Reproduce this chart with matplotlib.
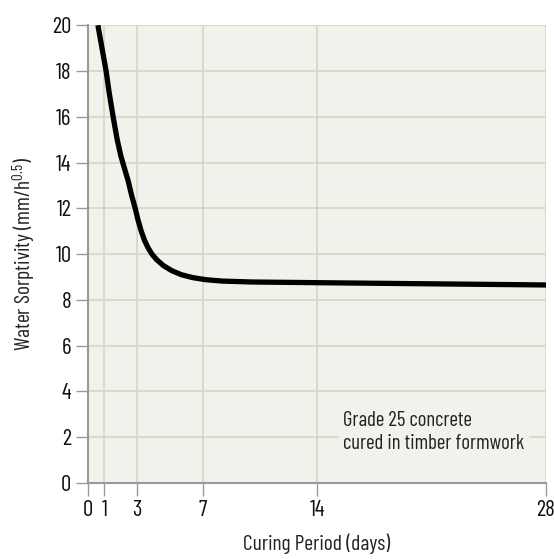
import matplotlib
matplotlib.use("Agg")
import matplotlib.pyplot as plt

# Data
curing_days = [0.6, 0.85, 1.1, 1.3, 1.53, 1.78, 2.0, 2.2, 2.45, 2.65, 2.88, 3.05, 3.25,
               3.45, 3.65, 3.9, 4.2, 4.6, 5.1, 5.7, 6.4, 7.2, 8.2, 10.0, 14.0, 21.0, 28.0]
sorptivity = [20.0, 19.0, 18.0, 17.0, 16.0, 15.0, 14.3, 13.8, 13.2, 12.6, 12.0, 11.5, 11.0,
              10.6, 10.3, 10.0, 9.75, 9.5, 9.28, 9.1, 8.97, 8.88, 8.82, 8.78, 8.75, 8.7, 8.65]
x_ticks = [0, 1, 3, 7, 14, 28]
y_ticks = [0, 2, 4, 6, 8, 10, 12, 14, 16, 18, 20]
annotation = "Grade 25 concrete\ncured in timber formwork"

plt.rcParams['font.family'] = ['Barlow Condensed', 'DejaVu Sans']
plt.rcParams['mathtext.default'] = 'regular'

bg = '#f2f2ec'
grid_c = '#d8d4c0'
axis_c = '#9a9a9a'

fig = plt.figure(figsize=(5.54, 5.59), dpi=100)
ax = fig.add_axes([0.159, 0.136, 0.8266, 0.819])
ax.set_facecolor(bg)

ax.set_xlim(0, 28)
ax.set_ylim(0, 20)
ax.set_xticks(x_ticks)
ax.set_yticks(y_ticks)
ax.tick_params(axis='both', direction='out', length=9, width=1, color=axis_c,
               labelsize=16.5, labelcolor='#111111', pad=3)

for y in y_ticks[1:]:
    ax.axhline(y, color=grid_c, lw=1.2, zorder=1)
for x in x_ticks[1:]:
    ax.axvline(x, color=grid_c, lw=1.2, zorder=1)

for s in ['top', 'right']:
    ax.spines[s].set_visible(False)
for s in ['left', 'bottom']:
    ax.spines[s].set_color(axis_c)
    ax.spines[s].set_linewidth(1.5)

ax.plot(curing_days, sorptivity, color='black', lw=3.8, solid_capstyle='butt',
        solid_joinstyle='round', zorder=3)

ax.text(15.6, 2.22, annotation, fontsize=15, color='#222222', va='center', ha='left',
        linespacing=1.3, zorder=2,
        bbox=dict(facecolor=bg, edgecolor='none', pad=3))

ax.set_xlabel('Curing Period (days)', fontsize=15.5, color='#222222', labelpad=9)
ax.set_ylabel(r'Water Sorptivity (mm/h$^{0.5}$)', fontsize=15.5, color='#222222', labelpad=10)

fig.savefig('out.png', dpi=100, facecolor='white')
